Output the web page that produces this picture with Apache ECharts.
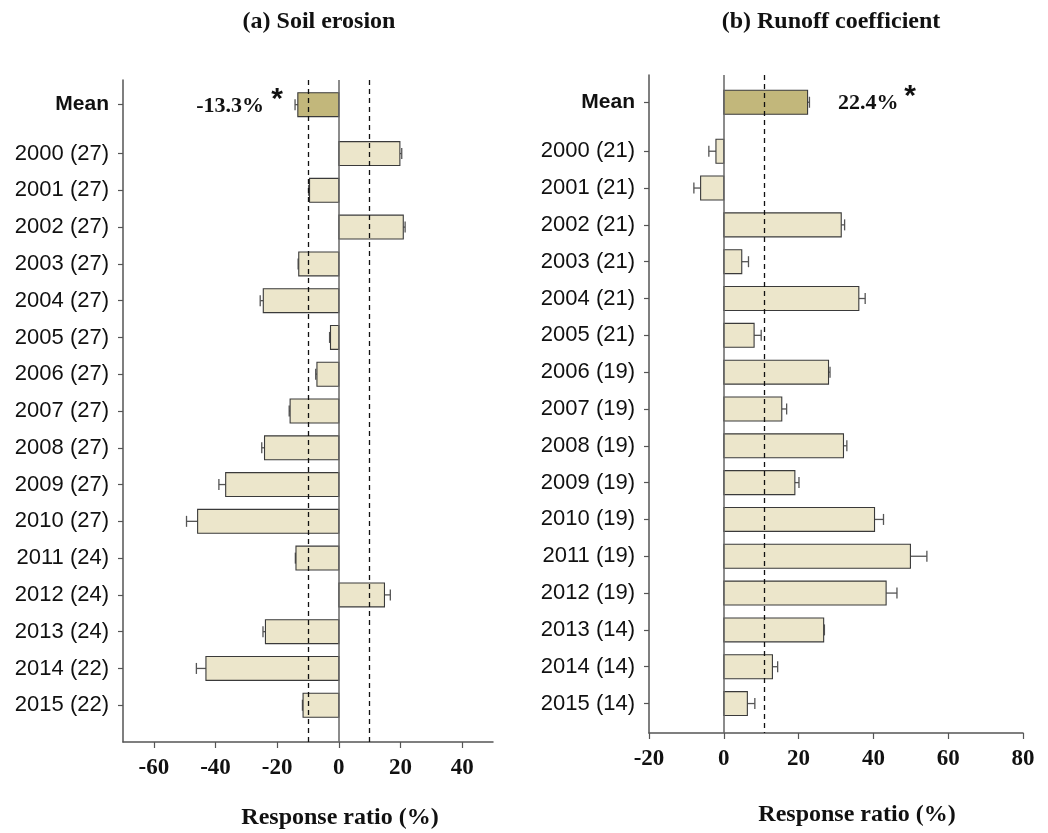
<!DOCTYPE html>
<html>
<head>
<meta charset="utf-8">
<script src="https://cdn.jsdelivr.net/npm/echarts@6/dist/echarts.min.js"></script>
<style>html,body{margin:0;padding:0;background:#fff}#chart{width:1048px;height:833px}</style>
</head>
<body>
<div id="chart"></div>
<script>
// ---------- data ----------
const soilYears = ['2000 (27)','2001 (27)','2002 (27)','2003 (27)','2004 (27)','2005 (27)','2006 (27)','2007 (27)','2008 (27)','2009 (27)','2010 (27)','2011 (24)','2012 (24)','2013 (24)','2014 (22)','2015 (22)'];
const soilValues = [19.8, -9.5, 20.9, -13.0, -24.5, -2.7, -7.1, -15.8, -24.1, -36.7, -45.8, -13.9, 14.8, -23.8, -43.1, -11.6];
const soilErrors = [0.6, 0.3, 0.6, 0.2, 1.0, 0.3, 0.4, 0.3, 0.9, 2.2, 3.6, 0.2, 1.9, 0.8, 3.1, 0.2];
const soilMean = -13.3;
const soilMeanError = 0.9;
const soilRefLines = [-10, 10];

const runoffYears = ['2000 (21)','2001 (21)','2002 (21)','2003 (21)','2004 (21)','2005 (21)','2006 (19)','2007 (19)','2008 (19)','2009 (19)','2010 (19)','2011 (19)','2012 (19)','2013 (14)','2014 (14)','2015 (14)'];
const runoffValues = [-2.1, -6.2, 31.4, 4.8, 36.1, 8.1, 28.0, 15.5, 32.0, 19.0, 40.3, 49.9, 43.4, 26.7, 13.0, 6.3];
const runoffErrors = [1.9, 1.8, 0.9, 1.8, 1.7, 1.9, 0.4, 1.3, 0.9, 1.1, 2.4, 4.4, 2.9, 0.2, 1.4, 2.0];
const runoffMean = 22.4;
const runoffMeanError = 0.5;
const runoffRefLines = [10.8];

const soilTicks = [-60, -40, -20, 0, 20, 40];
const runoffTicks = [-20, 0, 20, 40, 60, 80];
const meanLabel = 'Mean';

// ---------- layout ----------
const MEAN_POS = -1.33;
const BAR_H = 0.65;
const BAR_FILL = '#ece6cb';
const MEAN_FILL = '#c2b77b';

function buildData(mean, meanErr, vals, errs) {
  const d = [[mean, MEAN_POS, meanErr, 1]];
  vals.forEach((v, i) => d.push([v, i, errs[i], 0]));
  return d;
}
const positions = [MEAN_POS].concat(soilYears.map((_, i) => i));

function renderBars(params, api) {
  const v = api.value(0), pos = api.value(1), err = api.value(2), isMean = api.value(3);
  const p0 = api.coord([0, pos]);
  const p1 = api.coord([v, pos]);
  const pe = api.coord([v + (v < 0 ? -err : err), pos]);
  const h = api.size([0, BAR_H])[1];
  const cap = 11;
  return {
    type: 'group',
    children: [
      {type: 'line', shape: {x1: p1[0], y1: p1[1], x2: pe[0], y2: pe[1]}, style: {stroke: '#555', lineWidth: 1.3}},
      {type: 'line', shape: {x1: pe[0], y1: pe[1] - cap / 2, x2: pe[0], y2: pe[1] + cap / 2}, style: {stroke: '#555', lineWidth: 1.3}},
      {type: 'rect', shape: {x: Math.min(p0[0], p1[0]), y: p0[1] - h / 2, width: Math.abs(p1[0] - p0[0]), height: h},
        style: {fill: isMean ? MEAN_FILL : BAR_FILL, stroke: '#3a3a3a', lineWidth: 1.1}}
    ]
  };
}

function yAxisFor(gridIndex, names, min, max) {
  return {
    type: 'value', gridIndex, inverse: true, min, max,
    axisLine: {show: true, onZero: false, lineStyle: {color: '#555', width: 1.5}},
    axisTick: {show: true, inside: false, length: 5, lineStyle: {color: '#555', width: 1.2}, customValues: positions},
    splitLine: {show: false},
    axisLabel: {
      customValues: positions, margin: 14,
      fontFamily: 'Liberation Sans', fontSize: 22, color: '#111',
      formatter: function (val) {
        if (val < -0.5) return '{b|' + meanLabel + '}';
        const i = Math.round(val);
        return names[i] || '';
      },
      rich: {b: {fontFamily: 'Liberation Sans', fontSize: 21, fontWeight: 'bold', color: '#111'}}
    }
  };
}
function xAxisFor(gridIndex, min, max, ticks) {
  return {
    type: 'value', gridIndex, min, max,
    axisLine: {show: true, onZero: false, lineStyle: {color: '#555', width: 1.5}},
    axisTick: {show: true, inside: false, length: 6, lineStyle: {color: '#555', width: 1.2}, customValues: ticks},
    splitLine: {show: false},
    axisLabel: {customValues: ticks, margin: 15, fontFamily: 'Liberation Serif', fontWeight: 'bold', fontSize: 23, color: '#111'}
  };
}
function refLines(lines) {
  return {
    symbol: 'none', silent: true, label: {show: false}, animation: false,
    data: [{xAxis: 0, lineStyle: {type: 'solid', color: '#666', width: 1.5}}]
      .concat(lines.map(v => ({xAxis: v, lineStyle: {type: [5, 4], color: '#111', width: 1.3}})))
  };
}

const chart = echarts.init(document.getElementById('chart'), null, {renderer: 'canvas'});
chart.setOption({
  animation: false,
  backgroundColor: '#fff',
  grid: [
    {left: 123, right: 555, top: 80, bottom: 91},
    {left: 649, right: 25, top: 75, bottom: 100}
  ],
  xAxis: [xAxisFor(0, -70, 50, soilTicks), xAxisFor(1, -20, 80, runoffTicks)],
  yAxis: [yAxisFor(0, soilYears, -2, 16), yAxisFor(1, runoffYears, -2.07, 15.8)],
  series: [
    {type: 'custom', xAxisIndex: 0, yAxisIndex: 0, renderItem: renderBars, encode: {x: 0, y: 1},
      data: buildData(soilMean, soilMeanError, soilValues, soilErrors), markLine: refLines(soilRefLines), z: 2},
    {type: 'custom', xAxisIndex: 1, yAxisIndex: 1, renderItem: renderBars, encode: {x: 0, y: 1},
      data: buildData(runoffMean, runoffMeanError, runoffValues, runoffErrors), markLine: refLines(runoffRefLines), z: 2}
  ],
  graphic: [
    {type: 'text', x: 319, y: 22, style: {text: '(a) Soil erosion', font: 'bold 24px "Liberation Serif"', fill: '#111', align: 'center', verticalAlign: 'middle'}},
    {type: 'text', x: 831, y: 22, style: {text: '(b) Runoff coefficient', font: 'bold 24px "Liberation Serif"', fill: '#111', align: 'center', verticalAlign: 'middle'}},
    {type: 'text', x: 340, y: 818, style: {text: 'Response ratio (%)', font: 'bold 24px "Liberation Serif"', fill: '#111', align: 'center', verticalAlign: 'middle'}},
    {type: 'text', x: 857, y: 815, style: {text: 'Response ratio (%)', font: 'bold 24px "Liberation Serif"', fill: '#111', align: 'center', verticalAlign: 'middle'}},
    {type: 'text', x: 264, y: 106, style: {text: soilMean.toFixed(1) + '%', font: 'bold 22px "Liberation Serif"', fill: '#111', align: 'right', verticalAlign: 'middle'}},
    {type: 'text', x: 277, y: 100, style: {text: '*', font: 'bold 30px "Liberation Sans"', fill: '#111', align: 'center', verticalAlign: 'middle'}},
    {type: 'text', x: 838, y: 103, style: {text: runoffMean.toFixed(1) + '%', font: 'bold 22px "Liberation Serif"', fill: '#111', align: 'left', verticalAlign: 'middle'}},
    {type: 'text', x: 910, y: 97, style: {text: '*', font: 'bold 30px "Liberation Sans"', fill: '#111', align: 'center', verticalAlign: 'middle'}}
  ]
});
</script>
</body>
</html>
